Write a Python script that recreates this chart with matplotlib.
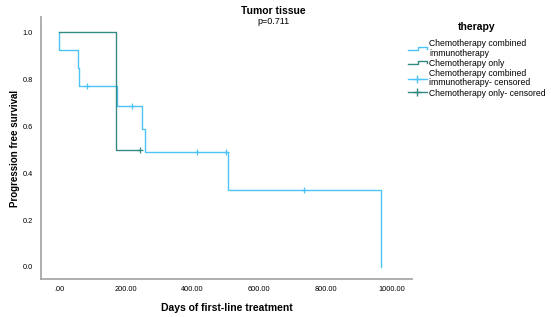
import matplotlib
matplotlib.use("Agg")
import matplotlib.pyplot as plt
from matplotlib.lines import Line2D
from matplotlib.legend_handler import HandlerBase

plt.rcParams["font.family"] = ["Liberation Sans", "DejaVu Sans"]

# Kaplan-Meier steps (days, survival)
combo_t = [0, 0, 57, 60, 173, 248, 257, 508, 966]
combo_s = [1.0, 0.923, 0.846, 0.769, 0.684, 0.586, 0.489, 0.326, 0.0]
combo_cens_t = [84, 218, 415, 501, 734]
combo_cens_s = [0.769, 0.684, 0.489, 0.489, 0.326]

chemo_t = [0, 170, 242]
chemo_s = [1.0, 0.5, 0.5]
chemo_cens_t = [242]
chemo_cens_s = [0.5]

x_ticks = [0, 200, 400, 600, 800, 1000]
x_labels = [".00", "200.00", "400.00", "600.00", "800.00", "1000.00"]
y_ticks = [0.0, 0.2, 0.4, 0.6, 0.8, 1.0]

blue = "#4EC3F5"
teal = "#348A82"


class StepHandler(HandlerBase):
    def create_artists(self, legend, orig_handle, xdescent, ydescent,
                       width, height, fontsize, trans):
        x0, y0 = -xdescent, -ydescent
        xs = [x0, x0 + 0.55 * width, x0 + 0.55 * width, x0 + width, x0 + width]
        ys = [y0 + 0.25 * height, y0 + 0.25 * height, y0 + 0.85 * height,
              y0 + 0.85 * height, y0 + 0.45 * height]
        ln = Line2D(xs, ys, color=orig_handle.get_color(), lw=1.0)
        ln.set_transform(trans)
        return [ln]


fig = plt.figure(figsize=(5.51, 3.17), dpi=100)
ax = fig.add_axes([0.0744, 0.12, 0.673, 0.826])

ax.step(combo_t, combo_s, where="post", color=blue, lw=1.0)
ax.step(chemo_t, chemo_s, where="post", color=teal, lw=1.0)
ax.plot(combo_cens_t, combo_cens_s, ls="none", marker="+", ms=5, mew=0.9, color=blue)
ax.plot(chemo_cens_t, chemo_cens_s, ls="none", marker="+", ms=5, mew=0.9, color=teal)

ax.set_xlim(-54, 1059)
ax.set_ylim(-0.051, 1.064)
ax.set_xticks(x_ticks)
ax.set_xticklabels(x_labels)
ax.set_yticks(y_ticks)
ax.set_yticklabels([f"{v:.1f}" for v in y_ticks])
ax.tick_params(length=0, labelsize=5.3, pad=5)
ax.tick_params(axis="y", pad=6)

for s in ["top", "right"]:
    ax.spines[s].set_visible(False)
for s in ["left", "bottom"]:
    ax.spines[s].set_color("#A8A8A8")
    ax.spines[s].set_linewidth(1.3)

ax.set_xlabel("Days of first-line treatment", fontsize=7.5, fontweight="bold", labelpad=7)
ax.set_ylabel("Progression free survival", fontsize=7, fontweight="bold", labelpad=2)

fig.text(273 / 551, 1 - 11 / 317, "Tumor tissue", ha="center", va="center",
         fontsize=7.5, fontweight="bold")
fig.text(273 / 551, 1 - 22 / 317, "p=0.711", ha="center", va="center", fontsize=6.5)

# legend title placed separately for spacing control
fig.text(477 / 551, 1 - 27 / 317, "therapy", ha="center", va="center",
         fontsize=7.5, fontweight="bold")

h1 = Line2D([], [], color=blue)
h2 = Line2D([], [], color=teal)
h3 = Line2D([], [], color=blue, marker="+", ms=6, lw=1.0)
h4 = Line2D([], [], color=teal, marker="+", ms=6, lw=1.0)
leg = fig.legend([h1, h2, h3, h4],
                 ["Chemotherapy combined\nimmunotherapy", "Chemotherapy only",
                  "Chemotherapy combined\nimmunotherapy- censored",
                  "Chemotherapy only- censored"],
                 handler_map={h1: StepHandler(), h2: StepHandler()},
                 loc="upper left", bbox_to_anchor=(408 / 551, 1 - 39 / 317),
                 frameon=False, fontsize=6.2,
                 handlelength=2.2, handletextpad=0.25, labelspacing=0.12,
                 borderaxespad=0, borderpad=0)
for t in leg.get_texts():
    t.set_linespacing(1.1)

fig.savefig("out.png", dpi=100)
